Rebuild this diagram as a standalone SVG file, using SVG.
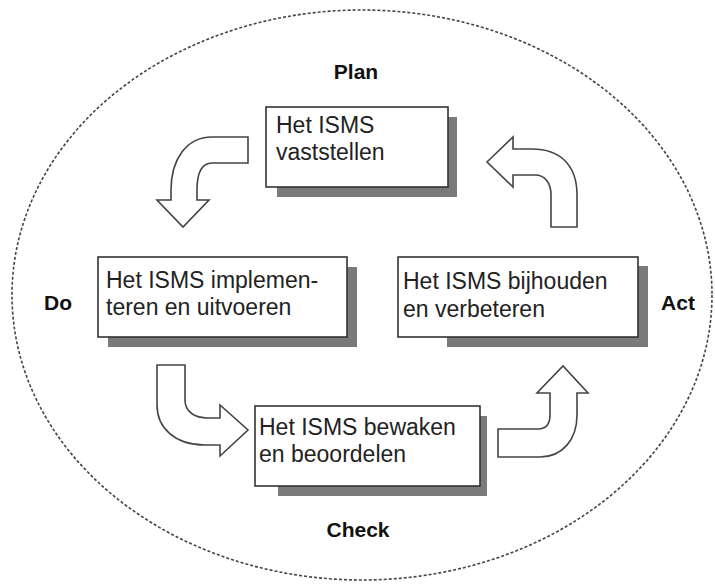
<svg xmlns="http://www.w3.org/2000/svg" width="715" height="584" viewBox="0 0 715 584">
<style>
.bg{fill:#ffffff}
.cycle{fill:none;stroke:#444;stroke-width:1.6;stroke-dasharray:3 2}
.box{fill:#ffffff;stroke:#333;stroke-width:1.6}
.shadow{fill:#7a7a7a}
.arrow{fill:#ffffff;stroke:#444;stroke-width:1.6;stroke-linejoin:miter}
.t{font-family:"Liberation Sans",Arial,sans-serif;font-size:23px;fill:#222}
.phase{font-family:"Liberation Sans",Arial,sans-serif;font-size:21px;font-weight:bold;fill:#111;text-anchor:middle}
</style>
<rect class="bg" x="0" y="0" width="715" height="584"/>
<ellipse class="cycle" cx="362" cy="295" rx="350" ry="285"/>
<text class="phase" x="356" y="79">Plan</text>
<text class="phase" x="358" y="537">Check</text>
<text class="phase" x="58" y="310">Do</text>
<text class="phase" x="678" y="310">Act</text>
<g id="plan">
<rect class="shadow" x="277" y="117" width="180" height="80"/>
<rect class="box" x="266" y="107" width="182" height="80"/>
<text class="t" x="276" y="133">Het ISMS</text>
<text class="t" x="276" y="160">vaststellen</text>
</g>
<g id="do">
<rect class="shadow" x="108" y="267" width="249" height="80"/>
<rect class="box" x="98" y="257" width="249" height="80"/>
<text class="t" x="106" y="288">Het ISMS implemen-</text>
<text class="t" x="106" y="315">teren en uitvoeren</text>
</g>
<g id="act">
<rect class="shadow" x="447" y="266" width="201" height="81"/>
<rect class="box" x="398" y="257" width="240" height="80"/>
<text class="t" x="403" y="289">Het ISMS bijhouden</text>
<text class="t" x="403" y="317">en verbeteren</text>
</g>
<g id="check">
<rect class="shadow" x="278" y="416" width="209" height="80"/>
<rect class="box" x="255" y="406" width="225" height="80"/>
<text class="t" x="259" y="435">Het ISMS bewaken</text>
<text class="t" x="259" y="462">en beoordelen</text>
</g>
<g id="connectors">
<path class="arrow" d="M 248 137 L 212 137 C 186 137 171 160 171 190 L 171 200 L 157 200 L 183 227 L 209 200 L 197 200 L 197 190 C 197 172 202 163 212 163 L 248 163 Z"/>
<path class="arrow" d="M 487 162 L 513 137 L 513 149 L 532 149 C 560 149 577 165 577 195 L 577 227 L 551 227 L 551 195 C 551 183 545 175 535 175 L 513 175 L 513 187 Z"/>
<path class="arrow" d="M 157 365 L 185 365 L 185 400 C 185 412 195 418 208 418 L 220 418 L 220 405 L 248 430 L 220 456 L 220 445 L 205 445 C 175 445 157 428 157 405 Z"/>
<path class="arrow" d="M 498 429 L 538 429 C 546 429 550 424 550 415 L 550 393 L 537 393 L 563 366 L 588 393 L 577 393 L 577 415 C 577 440 562 457 540 457 L 498 457 Z"/>
</g>
</svg>
